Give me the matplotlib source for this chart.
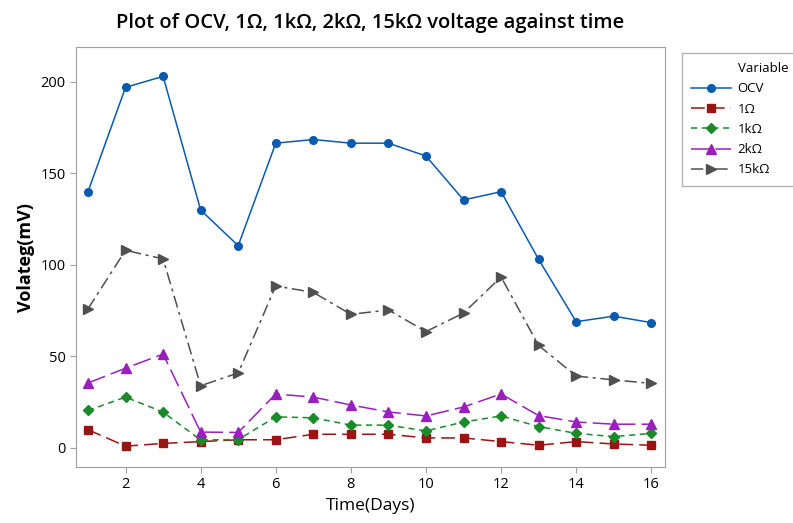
import matplotlib.pyplot as plt
from matplotlib.lines import Line2D

# --------------------------------------------------
# DATA
# --------------------------------------------------

days = list(range(1, 17))

ocv = [140, 197, 203, 130, 110.5, 166.5, 168.5, 166.5, 166.5, 159.5, 135.5, 140, 103, 69, 72, 68.5]
r1 = [10, 1, 2.5, 3.5, 4.5, 4.5, 7.5, 7.5, 7.5, 5.5, 5.5, 3.5, 1.5, 3.5, 2.2, 1.5]
r1k = [20.5, 27.8, 19.6, 4.4, 4.6, 17, 16.5, 12.5, 12.5, 9.3, 14.2, 17.5, 11.7, 8, 6.2, 8]
r2k = [35.5, 43.6, 51.3, 8.7, 8.5, 29.5, 27.8, 23.5, 19.7, 17.5, 22.4, 29.5, 17.7, 14.2, 13, 13]
r15k = [76, 108, 103.3, 34, 41, 88.5, 85, 73, 75.4, 63.6, 73.7, 93.4, 56, 39.3, 37.2, 35.3]

labels = ["OCV", "1\u03a9", "1k\u03a9", "2k\u03a9", "15k\u03a9"]

# --------------------------------------------------
# PLOT
# --------------------------------------------------

plt.rcParams["font.family"] = ["Open Sans", "DejaVu Sans"]

fig = plt.figure(figsize=(7.93, 5.23), dpi=100)
ax = fig.add_axes([0.0958, 0.107, 0.743, 0.803])

styles = [
    dict(color="#0a5bb0", marker="o", ls="-", ms=5.5),
    dict(color="#9b1414", marker="s", ls=(0, (9, 4)), ms=5.5),
    dict(color="#1a8a2a", marker="D", ls=(0, (4, 3)), ms=5),
    dict(color="#9a1fbf", marker="^", ls=(0, (12, 4)), ms=6.5),
    dict(color="#505050", marker=">", ls=(0, (8, 3, 2, 3)), ms=6.5),
]

handles = [Line2D([], [], ls="none")]
names = ["Variable"]
for vals, st, lab in zip([ocv, r1, r1k, r2k, r15k], styles, labels):
    h, = ax.plot(days, vals, color=st["color"], marker=st["marker"], ls=st["ls"],
                 ms=st["ms"], lw=1.1, label=lab)
    handles.append(h)
    names.append(lab)

ax.set_xlim(0.68, 16.37)
ax.set_ylim(-10.4, 219)
ax.set_xticks(range(2, 17, 2))
ax.set_yticks(range(0, 201, 50))

for s in ax.spines.values():
    s.set_color("#a0a0a0")
ax.tick_params(colors="#a0a0a0", labelcolor="black", labelsize=10.5, direction="out", length=4)

ax.set_title("Plot of OCV, 1\u03a9, 1k\u03a9, 2k\u03a9, 15k\u03a9 voltage against time",
             fontsize=14.5, fontweight="semibold", pad=14)
ax.set_xlabel("Time(Days)", fontsize=12.5)
ax.set_ylabel("Volateg(mV)", fontsize=13, fontweight="bold")

leg = ax.legend(handles, names, loc="upper left", bbox_to_anchor=(1.029, 0.986),
                fontsize=9.5, frameon=True, fancybox=False,
                handlelength=3.0, handletextpad=0.5, borderpad=0.7,
                labelspacing=0.55, borderaxespad=0)
leg.get_frame().set_edgecolor("#a0a0a0")

fig.savefig("out.png", dpi=100)
